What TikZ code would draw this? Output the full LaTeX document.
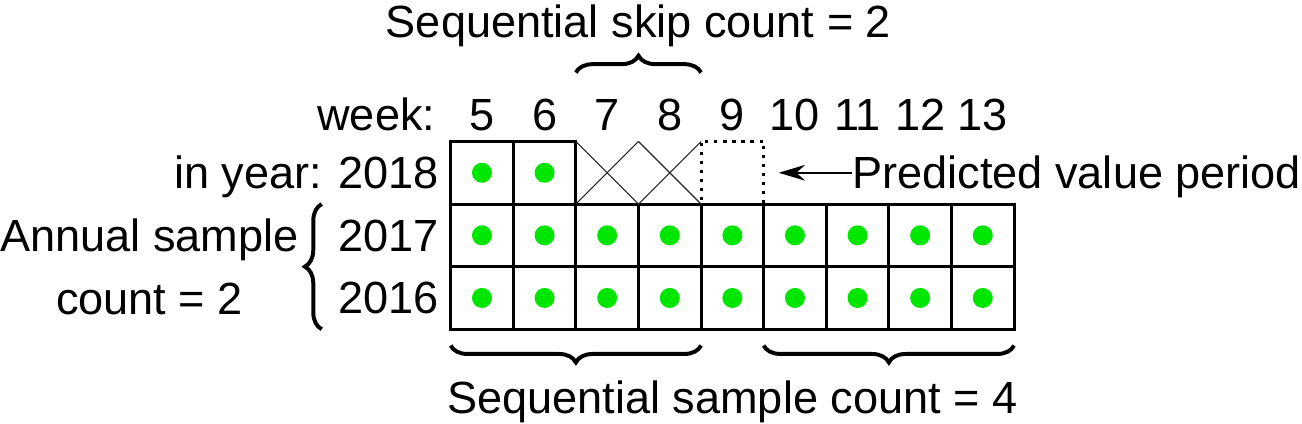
\documentclass[tikz,border=0pt]{standalone}
\usepackage{fontspec}
\setmainfont{Liberation Sans}
\usetikzlibrary{decorations.pathreplacing,arrows.meta}
\definecolor{dotgreen}{RGB}{0,230,0}

\begin{document}
\begin{tikzpicture}[
	cell/.style={minimum size=1cm, inner sep=0pt, outer sep=0pt},
	box/.style={cell, draw, line width=1.4pt},
	lbl/.style={inner sep=0pt, font=\fontsize{20.5}{28.45}\selectfont},
	brc/.style={decorate, decoration={brace, amplitude=0.27cm}, line width=1.8pt}
	]
	\useasboundingbox (-7.2,-1.5) rectangle (13.6,5.26);

	% Rows 2016 and 2017, week numbers
	\foreach \w [count=\i from 0] in {5,...,13} {
		\node[box] (c\w-2016) at (\i+0.5,0.5) {};
		\node[box] (c\w-2017) at (\i+0.5,1.5) {};
		\fill[dotgreen] (c\w-2016.center) circle (0.16);
		\fill[dotgreen] (c\w-2017.center) circle (0.16);
		\node[lbl, anchor=base] (w\w) at (\i+0.5,3.18) {\w};
	}

	% Row 2018
	\node[box] (c5-2018) at (0.5,2.5) {};
	\node[box] (c6-2018) at (1.5,2.5) {};
	\fill[dotgreen] (c5-2018.center) circle (0.16);
	\fill[dotgreen] (c6-2018.center) circle (0.16);
	\node[cell] (c7-2018) at (2.5,2.5) {};
	\node[cell] (c8-2018) at (3.5,2.5) {};
	\foreach \w in {7,8} {
		\draw[line width=0.5pt, black!85] (c\w-2018.north west) -- (c\w-2018.south east);
		\draw[line width=0.5pt, black!85] (c\w-2018.south west) -- (c\w-2018.north east);
	}
	% Predicted cell (dotted)
	\node[cell, draw, line width=1.4pt, dash pattern=on 1.4pt off 2.7pt] (c9-2018) at (4.5,2.5) {};
	\draw[line width=1.4pt] (c9-2018.south west) -- (c9-2018.south east);

	% Row labels
	\node[lbl, anchor=base east] (week) at (-0.24,3.18) {week:};
	\node[lbl, anchor=base east] (y2018) at (-0.18,2.245) {in year: 2018};
	\node[lbl, anchor=base east] (y2017) at (-0.18,1.245) {2017};
	\node[lbl, anchor=base east] (y2016) at (-0.18,0.245) {2016};

	% Annual sample count
	\draw[brc] ([xshift=-2.06cm]c5-2016.south west) -- ([xshift=-2.06cm]c5-2017.north west);
	\node[lbl, align=center] (annual) at (-4.81,1.0) {Annual sample\\count = 2};

	% Sequential skip count
	\draw[brc] ([yshift=1.1cm]c7-2018.north west) -- ([yshift=1.1cm]c8-2018.north east);
	\node[lbl, anchor=base] (skip) at (3,4.66) {Sequential skip count = 2};

	% Sequential sample count
	\draw[brc] ([yshift=-0.26cm]c8-2016.south east) -- ([yshift=-0.26cm]c5-2016.south west);
	\draw[brc] ([yshift=-0.26cm]c13-2016.south east) -- ([yshift=-0.26cm]c10-2016.south west);
	\node[lbl, anchor=base] (sample) at (4.5,-1.34) {Sequential sample count = 4};

	% Predicted value period
	\coordinate (predtip) at (5.24,2.5);
	\node[lbl, anchor=base west] (pred) at (6.41,2.245) {Predicted value period};
	\draw[-{Stealth[length=0.42cm, width=0.25cm]}, line width=1pt] (pred.west |- predtip) -- (predtip);

\end{tikzpicture}
\end{document}
